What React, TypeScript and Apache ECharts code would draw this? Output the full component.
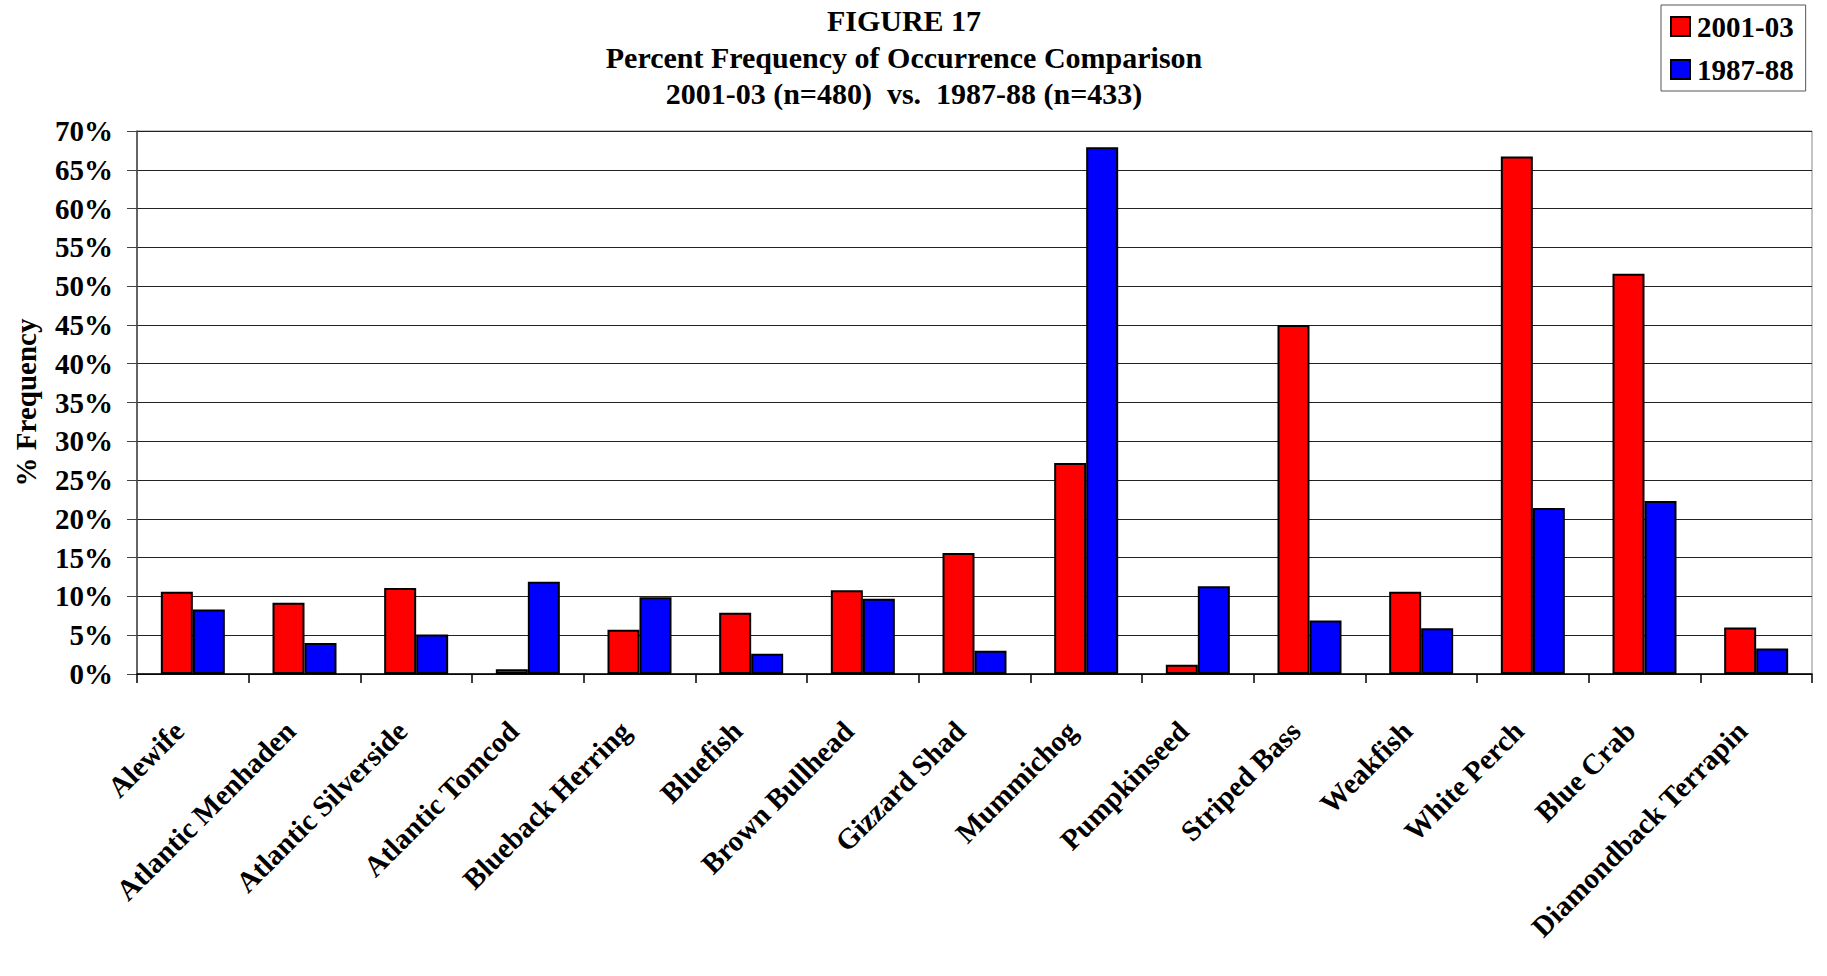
import React, { useEffect, useRef } from "react";
import * as echarts from "echarts";

const categories = [
  "Alewife",
  "Atlantic Menhaden",
  "Atlantic Silverside",
  "Atlantic Tomcod",
  "Blueback Herring",
  "Bluefish",
  "Brown Bullhead",
  "Gizzard Shad",
  "Mummichog",
  "Pumpkinseed",
  "Striped Bass",
  "Weakfish",
  "White Perch",
  "Blue Crab",
  "Diamondback Terrapin",
];

const values2001 = [10.6, 9.2, 11.1, 0.6, 5.7, 7.9, 10.8, 15.6, 27.2, 1.2, 45.0, 10.6, 66.7, 51.6, 6.0];
const values1987 = [8.3, 4.0, 5.1, 11.9, 9.9, 2.6, 9.7, 3.0, 67.9, 11.3, 6.9, 5.9, 21.4, 22.3, 3.3];

const seriesNames = ["2001-03", "1987-88"];
const titleLines = [
  "FIGURE 17",
  "Percent Frequency of Occurrence Comparison",
  "2001-03 (n=480)  vs.  1987-88 (n=433)",
];

const FONT = "'Liberation Serif', 'Times New Roman', serif";

export default function App() {
  const ref = useRef<HTMLDivElement>(null);
  useEffect(() => {
    document.body.style.margin = "0";
    const chart = echarts.init(ref.current!, null, { renderer: "svg" });
    chart.setOption({
      animation: false,
      backgroundColor: "#ffffff",
      textStyle: { fontFamily: FONT, fontWeight: "bold", color: "#000" },
      title: {
        text: titleLines.join("\n"),
        left: 904,
        top: 2,
        textAlign: "center",
        padding: 0,
        textStyle: {
          fontFamily: FONT,
          fontWeight: "bold",
          fontSize: 30,
          lineHeight: 36.7,
          color: "#000",
        },
      },
      legend: {
        data: seriesNames,
        orient: "vertical",
        left: 1661,
        top: 5,
        padding: [7, 12, 7, 9],
        itemWidth: 19,
        itemHeight: 19,
        itemGap: 14,
        borderColor: "#555",
        borderWidth: 1,
        icon: "rect",
        textStyle: {
          fontFamily: FONT,
          fontWeight: "bold",
          fontSize: 29,
          lineHeight: 29,
          color: "#000",
          padding: [0, 0, 0, 2],
        },
      },
      grid: {
        left: 137,
        right: 15,
        top: 131,
        bottom: 302,
        outerBoundsMode: "none",
        containLabel: false,
        show: true,
        borderColor: "#888",
        borderWidth: 1,
        backgroundColor: "transparent",
      },
      xAxis: {
        type: "category",
        data: categories,
        boundaryGap: true,
        axisLine: { show: true, lineStyle: { color: "#000", width: 1.5 } },
        axisTick: { show: true, length: 9, lineStyle: { color: "#000", width: 1.5 } },
        axisLabel: {
          interval: 0,
          rotate: 45,
          margin: 38,
          padding: [0, 20, 0, 0],
          fontFamily: FONT,
          fontWeight: "bold",
          fontSize: 29,
          color: "#000",
        },
      },
      yAxis: {
        type: "value",
        min: 0,
        max: 70,
        interval: 5,
        name: "% Frequency",
        nameLocation: "middle",
        nameGap: 97,
        nameRotate: 90,
        nameTextStyle: {
          fontFamily: FONT,
          fontWeight: "bold",
          fontSize: 29,
          color: "#000",
        },
        axisLine: { show: true, lineStyle: { color: "#444", width: 1.5 } },
        axisTick: { show: true, length: 10, lineStyle: { color: "#444", width: 1 } },
        axisLabel: {
          margin: 24,
          formatter: "{value}%",
          fontFamily: FONT,
          fontWeight: "bold",
          fontSize: 29,
          color: "#000",
        },
        splitLine: { show: true, lineStyle: { color: "#222", width: 1 } },
      },
      series: [
        {
          name: seriesNames[0],
          type: "bar",
          data: values2001,
          barWidth: 32,
          barGap: "0%",
          itemStyle: { color: "#ff0000", borderColor: "#000", borderWidth: 2 },
        },
        {
          name: seriesNames[1],
          type: "bar",
          data: values1987,
          barWidth: 32,
          barGap: "0%",
          itemStyle: { color: "#0000ff", borderColor: "#000", borderWidth: 2 },
        },
      ],
    });
    return () => chart.dispose();
  }, []);
  return <div ref={ref} style={{ width: 1827, height: 976 }} />;
}
